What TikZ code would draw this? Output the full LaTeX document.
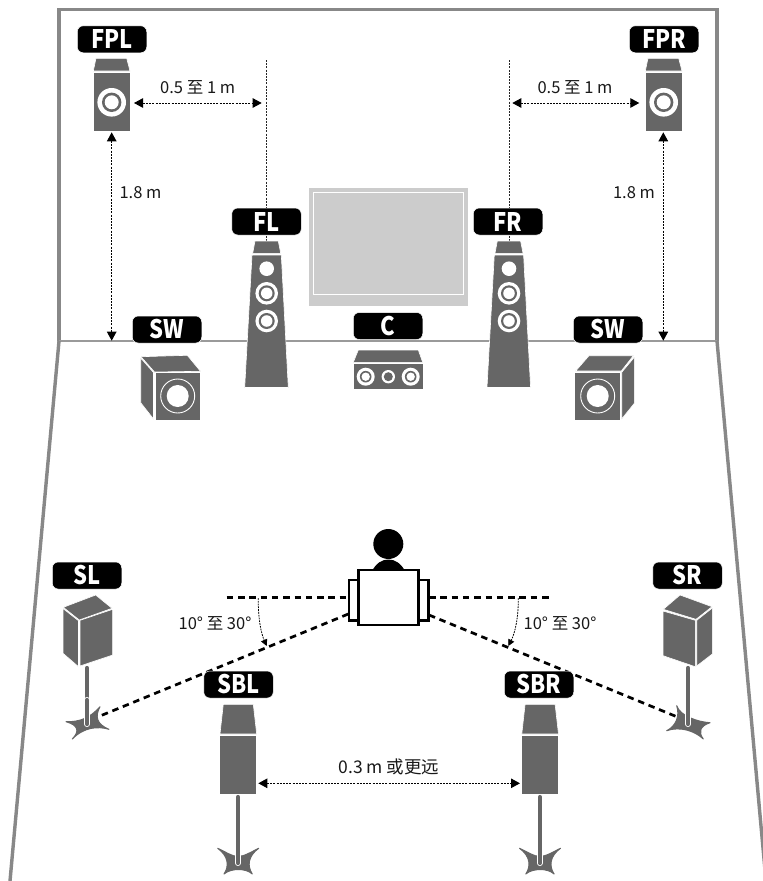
\documentclass[tikz,border=0pt]{standalone}
\usepackage{fontspec}
\setmainfont{Noto Sans CJK SC}
\newfontfamily\labfont[FakeStretch=0.86]{Noto Sans CJK SC}
\usetikzlibrary{arrows.meta}
\definecolor{spk}{HTML}{666666}
\definecolor{wall}{HTML}{888888}
\definecolor{tv}{HTML}{CCCCCC}
\tikzset{
  wallline/.style={draw=wall,line width=3.6pt},
  floorline/.style={draw=wall!85,line width=1.3pt},
  tag/.style={fill=black,draw=white,line width=0.5pt,rounded corners=6pt,minimum width=69.5pt,minimum height=27pt,inner sep=0pt,text=white,font=\labfont\bfseries\fontsize{25.5}{25.5}\selectfont},
  note/.style={inner sep=0pt,text=black!90,font=\fontsize{16.5}{18}\selectfont},
  spkface/.style={fill=spk,draw=white,line width=0.6pt,line join=round},
  footshape/.style={fill=spk,draw=spk,line width=1pt,line join=round},
  dim/.style={draw=black,line width=1pt,dash pattern=on 2pt off 1.2pt,{Triangle[length=9pt,width=9.5pt,black,sharp]}-{Triangle[length=9pt,width=9.5pt,black,sharp]}},
  guide/.style={draw=black!85,line width=1pt,dash pattern=on 2pt off 1.2pt},
  angarrow/.style={draw=black,line width=0.8pt,dash pattern=on 1.8pt off 1pt,-{Triangle[length=6.5pt,width=6.5pt,black,sharp]}},
  thickdash/.style={draw=black,line width=2.7pt,dash pattern=on 6.5pt off 4.8pt},
  person/.style={fill=white,draw=black,line width=2.4pt}
}
% concentric driver: outer white, grey ring, white centre
\newcommand{\driver}[4]{\fill[white] (#1,#2) circle (#3);\fill[spk] (#1,#2) circle (#4);\fill[white] (#1,#2) circle ({#4*0.72});}
\newcommand{\subcone}[2]{\draw[white,line width=0.9pt,fill=spk] (#1,#2) circle (17);\fill[white] (#1,#2) circle (11);}
\newcommand{\standpole}[3]{%
  \draw[line width=6pt,white,line cap=round] (#1,#2) -- (#1,#3);
  \draw[line width=4.2pt,spk,line cap=round] (#1,#2) -- (#1,#3);}
\newcommand{\rearfoot}{\path[footshape] (217.7,848.3) .. controls (226,852) and (232,856.5) .. (238,856.5) .. controls (244,856.5) and (251,852) .. (258.7,848.3) .. controls (248,856) and (247,866) .. (252.3,874) .. controls (246,868) and (231,868) .. (224,874) .. controls (229.4,866) and (228.4,856) .. (217.7,848.3) -- cycle;}
\begin{document}
\begin{tikzpicture}[x=1pt,y=-1pt]
\useasboundingbox (0,0) rectangle (763,881);
\fill[white] (0,0) rectangle (763,881);
% room
\draw[wallline,line join=miter] (59,341) -- (59,9.5) -- (717,9.5) -- (717,341);
\draw[floorline] (59,341) -- (717,341);
\draw[wallline,line width=3.4pt] (59,341) -- (10,881);
\draw[wallline,line width=3.4pt] (717,341) -- (766,881);
% TV
\fill[tv] (309,188.3) rectangle (467.7,306);
\draw[white,line width=1pt] (313.3,192.7) rectangle (463.3,294.3);
% anchors
\coordinate (fplside) at (134,103);
\coordinate (flguideA) at (266.7,60);
\coordinate (flguideB) at (266.7,241);
\coordinate (flguideM) at (261.7,103);
\coordinate (frguideA) at (509,60);
\coordinate (frguideB) at (509,241);
\coordinate (frguideM) at (512.3,103);
\coordinate (fprside) at (639.3,103);
\coordinate (fplbase) at (111.7,132.3);
\coordinate (fprbase) at (663.3,132.3);
\coordinate (floorL) at (111.7,340.7);
\coordinate (floorR) at (663.3,340.7);
\coordinate (sblside) at (258.3,783.3);
\coordinate (sbrside) at (520,783.3);
\coordinate (eyeLa) at (226.7,597.7);
\coordinate (eyeLb) at (347,597.7);
\coordinate (eyeRa) at (429,597.7);
\coordinate (eyeRb) at (550,597.7);
\coordinate (earL) at (348.3,614);
\coordinate (earR) at (429,615);
\coordinate (slfoot) at (100,716);
\coordinate (srfoot) at (676.7,716.7);
\coordinate (angLa) at (258.3,598);
\coordinate (angLb) at (266.7,646);
\coordinate (angRa) at (518.3,598);
\coordinate (angRb) at (508.3,646);
% guides
\draw[guide] (flguideA) -- (flguideB);
\draw[guide] (frguideA) -- (frguideB);
\draw[dim] (fplside) -- (flguideM);
\draw[dim] (frguideM) -- (fprside);
\draw[dim] (fplbase) -- (floorL);
\draw[dim] (fprbase) -- (floorR);
\draw[dim] (sblside) -- (sbrside);
% listener sight lines
\draw[thickdash] (eyeLa) -- (eyeLb);
\draw[thickdash] (eyeRa) -- (eyeRb);
\draw[thickdash] (earL) -- (slfoot);
\draw[thickdash] (earR) -- (srfoot);
\draw[angarrow] (angLa) .. controls (258,618) and (261,633) .. (angLb);
\draw[angarrow] (angRa) .. controls (518.5,618) and (515,633) .. (angRb);
% FPL
\begin{scope}
\path[spkface] (96,58.3) -- (126.7,58.3) -- (130,71) -- (93.3,71) -- cycle;
\path[spkface] (93,72.5) rectangle (130.3,131.3);
\driver{111.7}{102.3}{14.3}{9.7}
\end{scope}
% FPR
\begin{scope}[xshift=552pt]
\path[spkface] (96,58.3) -- (126.7,58.3) -- (130,71) -- (93.3,71) -- cycle;
\path[spkface] (93,72.5) rectangle (130.3,131.3);
\driver{111.7}{102.3}{14.3}{9.7}
\end{scope}
% FL
\path[spkface] (255,241) -- (278.3,241) -- (280.7,253.3) -- (252.7,253.3) -- cycle;
\path[spkface] (252,255) -- (281.3,255) -- (288.3,387.5) -- (244.7,387.5) -- cycle;
\fill[white] (266.7,268.7) circle (7.3);
\driver{266.7}{293.3}{11.3}{8}
\driver{266.7}{321}{11.3}{8}
% FR
\begin{scope}[xshift=242.3pt]
\path[spkface] (255,241) -- (278.3,241) -- (280.7,253.3) -- (252.7,253.3) -- cycle;
\path[spkface] (252,255) -- (281.3,255) -- (288.3,387.5) -- (244.7,387.5) -- cycle;
\fill[white] (266.7,268.7) circle (7.3);
\driver{266.7}{293.3}{11.3}{8}
\driver{266.7}{321}{11.3}{8}
\end{scope}
% SW left
\path[spkface] (141,356.7) -- (187.3,355.3) -- (200.5,371.3) -- (154.5,372) -- cycle;
\path[spkface] (140.7,358) -- (153.5,372.5) -- (153.5,419) -- (140.7,402.7) -- cycle;
\path[spkface] (155,372.7) rectangle (200.7,420);
\subcone{177.7}{396}
% SW right
\path[spkface] (575.7,371) -- (589,355.7) -- (633.3,355.7) -- (621.3,371) -- cycle;
\path[spkface] (621.7,372.3) -- (634.3,357.3) -- (634.3,403.3) -- (621.7,419) -- cycle;
\path[spkface] (574.7,372.3) rectangle (620.3,420);
\subcone{597.7}{396}
% C
\path[spkface] (358.3,350) -- (418.3,350) -- (422.7,362.3) -- (353.3,362.3) -- cycle;
\path[spkface] (353.3,363.7) rectangle (423.3,389);
\driver{365.7}{376.7}{9}{5.8}
\driver{410.7}{376.7}{9}{5.8}
\fill[white] (388.3,376.7) circle (6.7);\fill[spk] (388.3,376.7) circle (4.5);
% SL
\standpole{87}{668}{724}
\path[spkface] (63.3,607.3) -- (95.7,595) -- (112,608.3) -- (79.3,620) -- cycle;
\path[spkface] (63,608.5) -- (78.5,620.7) -- (78.5,666.7) -- (63,653.3) -- cycle;
\path[spkface] (80,620.3) -- (112.7,609.3) -- (112.7,655) -- (80,666) -- cycle;
\path[footshape] (66,721.7) .. controls (80,722) and (90,718) .. (100,706.7) .. controls (95,716) and (96,724) .. (109,729.3) .. controls (98,726) and (84,727) .. (72.3,739) .. controls (80,731) and (78,725) .. (66,721.7) -- cycle;
\standpole{87}{700}{724}
% SR
\path[spkface] (663.3,609.3) -- (680,595) -- (712,606.7) -- (696,619.3) -- cycle;
\path[spkface] (663,611) -- (695.3,620.3) -- (695.3,666.7) -- (663,655.7) -- cycle;
\path[spkface] (696.7,620.3) -- (712.3,608) -- (712.3,654) -- (696.7,666) -- cycle;
\path[footshape] (676.7,705.7) .. controls (680,716) and (698,722) .. (710,722.7) .. controls (700,726) and (698,732) .. (703.3,739) .. controls (695,731) and (680,726) .. (666.7,730.7) .. controls (676,726) and (680,716) .. (676.7,705.7) -- cycle;
\standpole{688}{668}{724}
% SBL
\path[spkface] (223.3,704.3) -- (253.3,704.3) -- (256.7,734) -- (220,734) -- cycle;
\path[spkface] (219.7,735.7) rectangle (256.7,794);
\rearfoot
\standpole{238}{797}{863}
% SBR
\begin{scope}[xshift=301.8pt]
\path[spkface] (223.3,704.3) -- (253.3,704.3) -- (256.7,734) -- (220,734) -- cycle;
\path[spkface] (219.7,735.7) rectangle (256.7,794);
\rearfoot
\standpole{238}{797}{863}
\end{scope}
% listener
\fill[black] (388.3,544) circle (15);
\fill[black] (371.5,572) .. controls (376,563) and (382,559.5) .. (388.3,559.5) .. controls (395,559.5) and (401,563) .. (405.5,572) -- cycle;
\path[person] (348.7,580.2) rectangle (358.5,620.5);
\path[person] (418.5,580.2) rectangle (428.5,620.5);
\path[person] (358.3,570.2) rectangle (418.5,625);
% tags
\node[tag] (FPL) at (112,39.3) {FPL};
\node[tag] (FPR) at (664,39.3) {FPR};
\node[tag] (FL) at (266.5,221.5) {FL};
\node[tag] (FR) at (508,221.5) {FR};
\node[tag] (SWa) at (167,329.5) {SW};
\node[tag] (SWb) at (608,329.5) {SW};
\node[tag] (C) at (388,326) {C};
\node[tag] (SL) at (87,575.5) {SL};
\node[tag] (SR) at (687.5,575.5) {SR};
\node[tag] (SBL) at (238.5,684.5) {SBL};
\node[tag] (SBR) at (539,684.5) {SBR};
% notes
\node[note] (n1) at (197.7,87.3) {0.5 至 1 m};
\node[note] (n2) at (575,87.3) {0.5 至 1 m};
\node[note] (n3) at (140.5,193) {1.8 m};
\node[note] (n4) at (634,193) {1.8 m};
\node[note] (n5) at (215,623) {10° 至 30°};
\node[note] (n6) at (560,623) {10° 至 30°};
\node[note,font=\fontsize{17.5}{19}\selectfont] (n7) at (389,767) {0.3 m 或更远};
\end{tikzpicture}
\end{document}
